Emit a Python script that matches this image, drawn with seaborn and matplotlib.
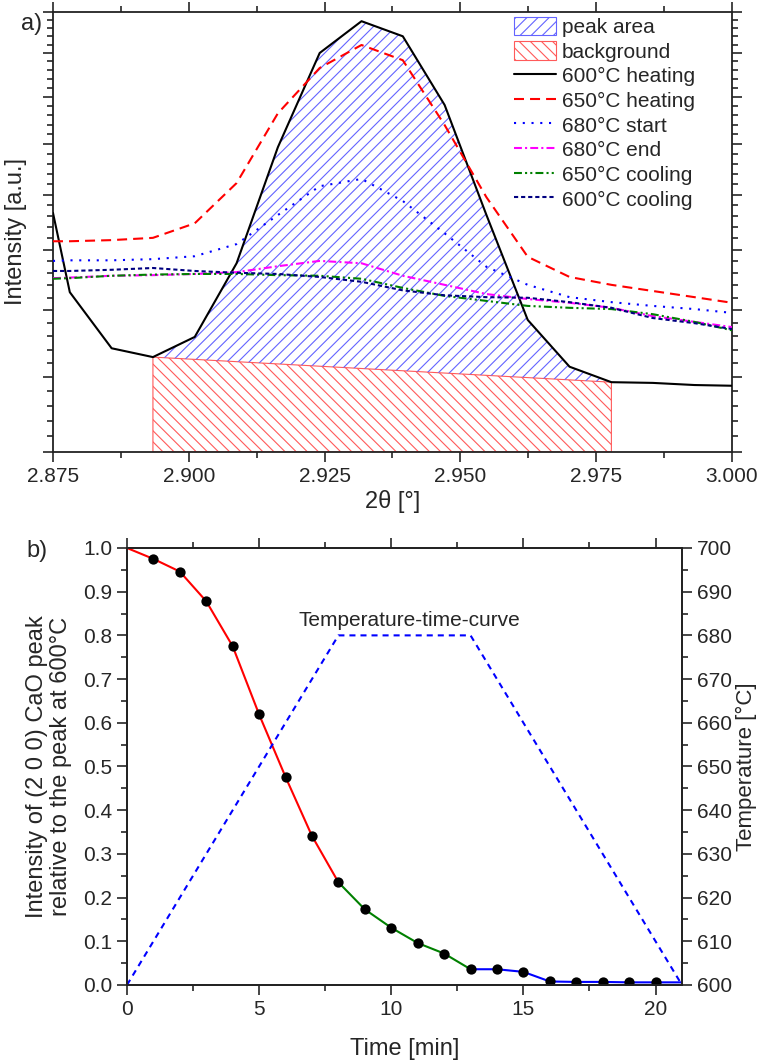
import matplotlib
matplotlib.use("Agg")
import matplotlib.pyplot as plt
import pandas as pd
import seaborn as sns
from matplotlib.patches import Patch
from matplotlib.ticker import FormatStrFormatter, MultipleLocator, NullFormatter

# ---- panel a) : (2 0 0) CaO reflection at different temperatures --------
TWO_THETA = [2.875, 2.8781, 2.8858, 2.8934, 2.9011, 2.9088, 2.9164, 2.9241, 2.9318,
             2.9394, 2.9471, 2.9548, 2.9624, 2.9701, 2.9778, 2.9854, 2.9931, 3.000]
I_600_HEAT = [1166, 1029, 942, 929, 959, 1077, 1293, 1500, 1577,
              1540, 1382, 1162, 985, 915, 893, 892, 889, 888]
I_650_HEAT = [1115, 1115, 1117, 1121, 1147, 1222, 1364, 1465, 1519,
              1483, 1339, 1195, 1088, 1054, 1041, 1031, 1021, 1012]
I_680_START = [1081, 1082, 1082, 1084, 1089, 1110, 1162, 1216, 1230,
               1188, 1129, 1071, 1041, 1021, 1013, 1007, 1002, 996]
I_680_END = [1052, 1053, 1056, 1057, 1059, 1062, 1072, 1081, 1077,
             1056, 1041, 1026, 1018, 1012, 1004, 991, 982, 974]
I_650_COOL = [1051, 1052, 1056, 1058, 1059, 1059, 1057, 1056, 1051,
              1036, 1023, 1015, 1007, 1004, 1002, 994, 982, 969]
I_600_COOL = [1064, 1064, 1066, 1069, 1064, 1061, 1059, 1054, 1046,
              1032, 1024, 1021, 1020, 1013, 1004, 988, 980, 971]

PEAK_LIMITS = [2.8934, 2.9778]
BACKGROUND_LEVEL = [929, 893]

# ---- panel b) : relative peak intensity vs time ------------------------
TIME_MIN = [0, 1, 2, 3, 4, 5, 6, 7, 8, 9, 10, 11, 12, 13, 14, 15, 16, 17, 18, 19, 20, 21]
REL_INTENSITY = [1.000, 0.975, 0.946, 0.878, 0.775, 0.619, 0.476, 0.341, 0.235, 0.173, 0.131,
                 0.096, 0.072, 0.036, 0.036, 0.030, 0.008, 0.007, 0.007, 0.006, 0.006, 0.006]
SEGMENT_BOUNDS = [0, 8, 13, 21]
SEGMENT_COLORS = ["#ff0000", "#008000", "#0000ff"]

TEMP_TIME = [0, 8, 13, 21]
TEMP_C = [600, 680, 680, 600]

sns.set_style("ticks")
plt.rcParams["font.family"] = ["Liberation Sans", "DejaVu Sans"]
plt.rcParams["font.size"] = 15
plt.rcParams["xtick.labelsize"] = 15
plt.rcParams["ytick.labelsize"] = 15
plt.rcParams["hatch.linewidth"] = 0.8
plt.rcParams["axes.linewidth"] = 1.3
plt.rcParams["axes.edgecolor"] = "#222222"

LABEL_SIZE = 17

fig = plt.figure(figsize=(7.59, 10.63), dpi=100)
ax_a = fig.add_axes([0.0698, 0.5748, 0.8946, 0.4139])
ax_b = fig.add_axes([0.1673, 0.0734, 0.7312, 0.4111])

spec = pd.DataFrame({
    "two_theta": TWO_THETA,
    "600°C heating": I_600_HEAT,
    "650°C heating": I_650_HEAT,
    "680°C start": I_680_START,
    "680°C end": I_680_END,
    "650°C cooling": I_650_COOL,
    "600°C cooling": I_600_COOL,
})

ax_a.set_yscale("log")
ax_a.set_xlim(2.875, 3.000)
ax_a.set_ylim(800, 1600)

# background and peak area
blue_hatch = "#6464ff"
red_hatch = "#ff5a5a"
ax_a.fill_between(PEAK_LIMITS, BACKGROUND_LEVEL, 800, facecolor="none",
                  edgecolor=red_hatch, hatch="\\\\\\", linewidth=0.8, zorder=1)
peak = spec[(spec.two_theta >= PEAK_LIMITS[0]) & (spec.two_theta <= PEAK_LIMITS[1])]
ax_a.fill(peak["two_theta"], peak["600°C heating"], facecolor="none",
          edgecolor=blue_hatch, hatch="///", linewidth=0, zorder=1)

line_styles = {
    "600°C heating": ("black", "-"),
    "650°C heating": ("#ff0000", (0, (4.8, 2.9))),
    "680°C start": ("#0000ff", (0, (1, 3.2))),
    "680°C end": ("#ff00ff", (0, (3.8, 1.5, 1, 1.5))),
    "650°C cooling": ("#008000", (0, (3.8, 1.5, 1, 1.5, 1, 1.5))),
    "600°C cooling": ("#000080", (0, (2, 1.4))),
}
line_handles = []
for name, (color, ls) in line_styles.items():
    sns.lineplot(data=spec, x="two_theta", y=name, color=color, linestyle=ls,
                 linewidth=1.5, ax=ax_a, zorder=3)
    line_handles.append(ax_a.get_lines()[-1])

ax_a.yaxis.set_major_locator(MultipleLocator(100))
ax_a.yaxis.set_minor_locator(MultipleLocator(20))
ax_a.yaxis.set_major_formatter(NullFormatter())
ax_a.yaxis.set_minor_formatter(NullFormatter())
ax_a.xaxis.set_major_locator(MultipleLocator(0.025))
ax_a.xaxis.set_minor_locator(MultipleLocator(0.0125))
ax_a.xaxis.set_major_formatter(FormatStrFormatter("%.3f"))
ax_a.tick_params(which="both", direction="out", top=True, right=True, width=1.2)
ax_a.tick_params(which="major", length=7)
ax_a.tick_params(which="minor", length=4)
ax_a.set_xlabel("2θ [°]", fontsize=LABEL_SIZE, labelpad=3)
ax_a.set_ylabel("Intensity [a.u.]", fontsize=LABEL_SIZE, labelpad=8)

handles = [
    Patch(facecolor="none", edgecolor=blue_hatch, hatch="///", linewidth=0.8),
    Patch(facecolor="none", edgecolor=red_hatch, hatch="\\\\\\", linewidth=0.8),
] + line_handles
ax_a.legend(handles=handles, labels=["peak area", "background"] + list(line_styles),
            loc="upper left", bbox_to_anchor=(0.676, 0.994), frameon=False,
            borderaxespad=0, borderpad=0.1, handlelength=2.0, handleheight=1.0,
            handletextpad=0.3, labelspacing=0.2, fontsize=15)

# ---- panel b) ----------------------------------------------------------
kin = pd.DataFrame({"time": TIME_MIN, "rel": REL_INTENSITY})
for (t0, t1), color in zip(zip(SEGMENT_BOUNDS[:-1], SEGMENT_BOUNDS[1:]), SEGMENT_COLORS):
    seg = kin[(kin.time >= t0) & (kin.time <= t1)]
    sns.lineplot(data=seg, x="time", y="rel", color=color, linewidth=1.5, ax=ax_b, zorder=3)
dots = kin[(kin.time > 0) & (kin.time < 21)]
sns.scatterplot(data=dots, x="time", y="rel", color="black", s=55, edgecolor="black",
                linewidth=0, ax=ax_b, zorder=4)

ax_b.set_xlim(0, 21)
ax_b.set_ylim(0, 1)
ax_b.xaxis.set_major_locator(MultipleLocator(5))
ax_b.xaxis.set_minor_locator(MultipleLocator(2.5))
ax_b.yaxis.set_major_locator(MultipleLocator(0.1))
ax_b.yaxis.set_minor_locator(MultipleLocator(0.05))
ax_b.yaxis.set_major_formatter(FormatStrFormatter("%.1f"))
ax_b.tick_params(which="both", direction="out", top=True, width=1.2)
ax_b.tick_params(which="major", length=7)
ax_b.tick_params(which="minor", length=4)
ax_b.set_xlabel("Time [min]", fontsize=LABEL_SIZE, labelpad=14)
ax_b.set_ylabel("Intensity of (2 0 0) CaO peak\nrelative to the peak at 600°C",
                fontsize=LABEL_SIZE, labelpad=8, linespacing=1.1)

ax_t = ax_b.twinx()
temp = pd.DataFrame({"time": TEMP_TIME, "temp": TEMP_C})
sns.lineplot(data=temp, x="time", y="temp", color="#0000ff", linestyle=(0, (2.9, 2.4)),
             linewidth=1.5, ax=ax_t)
ax_t.set_ylim(600, 700)
ax_t.yaxis.set_major_locator(MultipleLocator(10))
ax_t.yaxis.set_minor_locator(MultipleLocator(5))
ax_t.tick_params(which="both", direction="out", width=1.2)
ax_t.tick_params(which="major", length=7)
ax_t.tick_params(which="minor", length=4)
ax_t.set_ylabel("Temperature [°C]", fontsize=16, labelpad=3)
ax_t.text(10.7, 683.5, "Temperature-time-curve", ha="center", va="center", fontsize=15)
for ax in (ax_a, ax_b, ax_t):
    for side in ax.spines.values():
        side.set_visible(True)

fig.text(0.042, 0.977, "a)", fontsize=LABEL_SIZE, ha="center", va="center")
fig.text(0.049, 0.482, "b)", fontsize=LABEL_SIZE, ha="center", va="center")

fig.savefig("out.png", dpi=100, facecolor="white")
